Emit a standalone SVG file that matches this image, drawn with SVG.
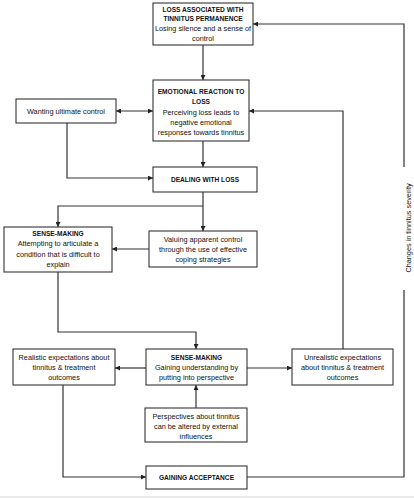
<svg xmlns="http://www.w3.org/2000/svg" width="414" height="500" viewBox="0 0 414 500">
<defs>
<marker id="ah" viewBox="0 0 10 10" refX="10" refY="5" markerWidth="5" markerHeight="5" orient="auto-start-reverse" markerUnits="userSpaceOnUse">
<path d="M0,0 L10,5 L0,10 z" fill="#222"/>
</marker>
<style>
.box{fill:#fff;stroke:#333;stroke-width:1.1}
.t{font-family:"Liberation Sans",Arial,sans-serif;font-size:7.3px;fill:#111;text-anchor:middle}
.b{font-weight:bold;font-size:6.6px}
.c{fill:none;stroke:#333;stroke-width:1.2}
.a{marker-end:url(#ah)}
</style>
</defs>
<rect width="414" height="500" fill="#fff"/>
<line x1="0" y1="497" x2="414" y2="497" stroke="#e2e2e2" stroke-width="1.5"/>
<g id="connectors">
<path class="c a" d="M203,45 V80"/>
<path class="c a" d="M116,111 H153" marker-start="url(#ah)"/>
<path class="c a" d="M343,349 V111 H249"/>
<path class="c a" d="M67,123 V178 H153"/>
<path class="c a" d="M203,141 V167"/>
<path class="c a" d="M203,192 V231"/>
<path class="c a" d="M203,206 H58 V227"/>
<path class="c a" d="M149,249 H112"/>
<path class="c a" d="M58,272 V332 H196 V349"/>
<path class="c a" d="M146,368 H115"/>
<path class="c a" d="M247,368 H292"/>
<path class="c a" d="M196,408 V385"/>
<path class="c a" d="M63,385 V477 H146"/>
<path class="c" d="M247,477 H404 V290"/>
<path class="c a" d="M404,167 V24 H253"/>
<text class="t" transform="translate(411,228) rotate(-90)">Changes in tinnitus severity</text>
</g>
<g id="loss">
<rect class="box" x="153" y="3" width="100" height="42"/>
<text class="t b" x="203" y="11.5">LOSS ASSOCIATED WITH</text>
<text class="t b" x="203" y="21">TINNITUS PERMANENCE</text>
<text class="t" x="203" y="31">Losing silence and a sense of</text>
<text class="t" x="203" y="41">control</text>
</g>
<g id="wanting">
<rect class="box" x="16" y="99" width="100" height="24"/>
<text class="t" x="66" y="113.5">Wanting ultimate control</text>
</g>
<g id="emotional">
<rect class="box" x="153" y="80" width="96" height="61"/>
<text class="t b" x="201" y="94">EMOTIONAL REACTION TO</text>
<text class="t b" x="201" y="104">LOSS</text>
<text class="t" x="201" y="114.5">Perceiving loss leads to</text>
<text class="t" x="201" y="124.5">negative emotional</text>
<text class="t" x="201" y="134.5">responses towards tinnitus</text>
</g>
<g id="dealing">
<rect class="box" x="153" y="167" width="104" height="25"/>
<text class="t b" x="205" y="181.5">DEALING WITH LOSS</text>
</g>
<g id="sensemaking1">
<rect class="box" x="4" y="227" width="108" height="45"/>
<text class="t b" x="58" y="235.5">SENSE-MAKING</text>
<text class="t" x="58" y="246">Attempting to articulate a</text>
<text class="t" x="58" y="256.5">condition that is difficult to</text>
<text class="t" x="58" y="266.5">explain</text>
</g>
<g id="valuing">
<rect class="box" x="149" y="231" width="108" height="36"/>
<text class="t" x="203" y="242">Valuing apparent control</text>
<text class="t" x="203" y="251.5">through the use of effective</text>
<text class="t" x="203" y="261.5">coping strategies</text>
</g>
<g id="realistic">
<rect class="box" x="13" y="349" width="102" height="36"/>
<text class="t" x="64" y="359.5">Realistic expectations about</text>
<text class="t" x="64" y="369.5">tinnitus &amp; treatment</text>
<text class="t" x="64" y="379.5">outcomes</text>
</g>
<g id="sensemaking2">
<rect class="box" x="146" y="349" width="101" height="36"/>
<text class="t b" x="196.5" y="359.5">SENSE-MAKING</text>
<text class="t" x="196.5" y="369.5">Gaining understanding by</text>
<text class="t" x="196.5" y="379.5">putting into perspective</text>
</g>
<g id="unrealistic">
<rect class="box" x="292" y="349" width="101" height="36"/>
<text class="t" x="342.5" y="359.5">Unrealistic expectations</text>
<text class="t" x="342.5" y="369.5">about tinnitus &amp; treatment</text>
<text class="t" x="342.5" y="379.5">outcomes</text>
</g>
<g id="perspectives">
<rect class="box" x="145" y="408" width="102" height="34"/>
<text class="t" x="196" y="418.5">Perspectives about tinnitus</text>
<text class="t" x="196" y="428.5">can be altered by external</text>
<text class="t" x="196" y="438.5">influences</text>
</g>
<g id="gaining">
<rect class="box" x="146" y="466" width="101" height="23"/>
<text class="t b" x="196.5" y="479.5">GAINING ACCEPTANCE</text>
</g>
</svg>
